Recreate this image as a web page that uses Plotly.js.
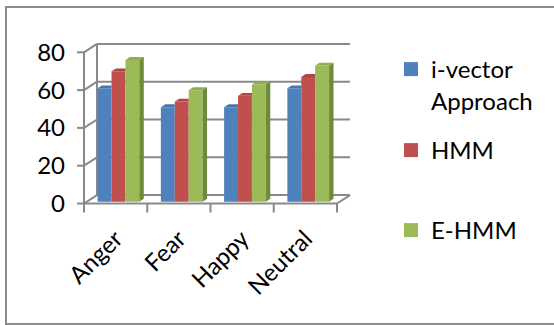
<!DOCTYPE html>
<html>
<head>
<meta charset="utf-8">
<script src="https://cdn.plot.ly/plotly-3.0.1.min.js"></script>
<style>
  html, body { margin: 0; padding: 0; background: #ffffff; }
  #chart { width: 554px; height: 325px; }
</style>
</head>
<body>
<div id="chart"></div>
<script>
// Recognition accuracy per emotion, three methods
const categories = ['Anger', 'Fear', 'Happy', 'Neutral'];
const seriesNames = ['i-vector<br>Approach', 'HMM', 'E-HMM'];
const ivector = [60, 50, 50, 60];
const hmm = [69, 53, 56, 66];
const ehmm = [75, 59, 62, 72];
const yTicks = [0, 20, 40, 60, 80];

const seriesValues = [ivector, hmm, ehmm];
const frontColors = ['#4f81bd', '#c0504d', '#9bbb59'];
const topColors = ['#4677b0', '#ae4744', '#8fae50'];
const sideColors = ['#385d8a', '#8c3836', '#6f8a3b'];

// plot-area box in pixels and axis scales
const W = 554, H = 325;
const M = { l: 70, r: W - 355, t: 38, b: H - 216 };
const PX_X = 63.25;            // pixels per category
const PX_Y = 1.89;             // pixels per unit of value
const X0 = -0.5 - 14 / PX_X;
const X1 = X0 + (W - M.l - M.r) / PX_X;
const Y0 = -(216 - 203.5) / PX_Y;
const Y1 = (203.5 - 38) / PX_Y;

// pseudo-3D depth of the chart box and of the columns
const DX = 13 / PX_X, DY = 8.4 / PX_Y;
const BAR_F = 0.22, BAR_D = 0.34, BAR_W = 0.22;
const idx = categories.map((c, i) => i);
const base = BAR_F * DY;
const ddx = BAR_D * DX, ddy = BAR_D * DY;

const traces = [];

// front faces of the columns
seriesValues.forEach((vals, s) => {
  traces.push({
    type: 'bar', x: idx, y: vals, base: vals.map(() => base),
    offset: BAR_F * DX - 1.5 * BAR_W + s * BAR_W, width: BAR_W,
    marker: { color: frontColors[s], line: { width: 0 } },
    showlegend: false, hoverinfo: 'skip'
  });
});

// top faces (and the exposed side of the last column in each group)
seriesValues.forEach((vals, s) => {
  const last = s === seriesValues.length - 1;
  const tx = [], ty = [], sx = [], sy = [];
  vals.forEach((v, i) => {
    const xl = i + BAR_F * DX - 1.5 * BAR_W + s * BAR_W;
    const xr = xl + BAR_W;
    const t = base + v;
    if (last) {
      tx.push(xl, xr, xr + ddx, xl + ddx, xl, null);
      ty.push(t, t, t + ddy, t + ddy, t, null);
      sx.push(xr, xr + ddx, xr + ddx, xr, xr, null);
      sy.push(base, base + ddy, t + ddy, t, base, null);
    } else {
      tx.push(xl, xr, xr, xl + ddx, xl, null);
      ty.push(t, t, t + ddy, t + ddy, t, null);
    }
  });
  traces.push({
    type: 'scatter', mode: 'lines', x: tx, y: ty, fill: 'toself',
    fillcolor: topColors[s], line: { width: 0 }, showlegend: false, hoverinfo: 'skip'
  });
  if (last) {
    traces.push({
      type: 'scatter', mode: 'lines', x: sx, y: sy, fill: 'toself',
      fillcolor: sideColors[s], line: { width: 0 }, showlegend: false, hoverinfo: 'skip'
    });
  }
});

// legend entries, one legend box per series
const legendIds = ['legend', 'legend2', 'legend3'];
seriesNames.forEach((name, s) => {
  traces.push({
    type: 'scatter', mode: 'markers', x: [null], y: [null], name: name,
    marker: { symbol: 'square', size: 14, color: frontColors[s] },
    legend: legendIds[s], showlegend: true, hoverinfo: 'skip'
  });
});

// walls, floor, axis lines and tick marks
const gridColor = '#898989';
const line = (x0, y0, x1, y1) => ({
  type: 'line', xref: 'x', yref: 'y', x0, y0, x1, y1, layer: 'below',
  line: { color: gridColor, width: 2 }
});
const xLeft = -0.5, xRight = categories.length - 0.5;
const shapes = [];
yTicks.forEach(v => {
  shapes.push(line(xLeft, v, xLeft + DX, v + DY));
  shapes.push(line(xLeft + DX, v + DY, xRight + DX, v + DY));
  shapes.push(line(xLeft - 7 / PX_X, v, xLeft, v));
});
const yTop = yTicks[yTicks.length - 1];
shapes.push(line(xLeft + DX, DY, xLeft + DX, yTop + DY));
shapes.push(line(xLeft, 0, xLeft, yTop));
shapes.push(line(xLeft, 0, xRight, 0));
shapes.push(line(xRight, 0, xRight + DX, DY));
for (let k = 0; k <= categories.length; k++) {
  shapes.push(line(k - 0.5, 0, k - 0.5, -9 / PX_Y));
}
// outer frame of the chart
const pw = W - M.l - M.r, ph = H - M.t - M.b;
shapes.push({
  type: 'rect', xref: 'paper', yref: 'paper',
  x0: (6 - M.l) / pw, x1: (620 - M.l) / pw,
  y0: (H - M.b - 324) / ph, y1: (H - M.b - 7) / ph,
  line: { color: '#8c8c8c', width: 2 }, fillcolor: 'rgba(0,0,0,0)'
});

const font = { family: 'Lato, "Open Sans", sans-serif', size: 24, color: '#000000' };
const legendBase = {
  font: font, xanchor: 'left', yanchor: 'top', bgcolor: 'rgba(0,0,0,0)',
  borderwidth: 0, valign: 'top', itemsizing: 'trace'
};
const lx = (391 - M.l) / pw;
const ly = px => (H - M.b - px) / ph;

const layout = {
  width: W, height: H,
  margin: M,
  paper_bgcolor: 'rgba(0,0,0,0)', plot_bgcolor: 'rgba(0,0,0,0)',
  font: font,
  barmode: 'overlay',
  xaxis: {
    range: [X0, X1], tickvals: idx, ticktext: categories, tickangle: -45,
    ticks: '', showgrid: false, zeroline: false, showline: false,
    tickfont: font, fixedrange: true, ticklabelstandoff: 3
  },
  yaxis: {
    range: [Y0, Y1], tickvals: yTicks, ticks: '', showgrid: false,
    zeroline: false, showline: false, tickfont: font, fixedrange: true,
    ticklabelstandoff: 4
  },
  shapes: shapes,
  legend: Object.assign({}, legendBase, { x: lx, y: ly(47) }),
  legend2: Object.assign({}, legendBase, { x: lx, y: ly(128) }),
  legend3: Object.assign({}, legendBase, { x: lx, y: ly(208) })
};

Plotly.newPlot('chart', traces, layout, { displayModeBar: false, staticPlot: true });
</script>
</body>
</html>
